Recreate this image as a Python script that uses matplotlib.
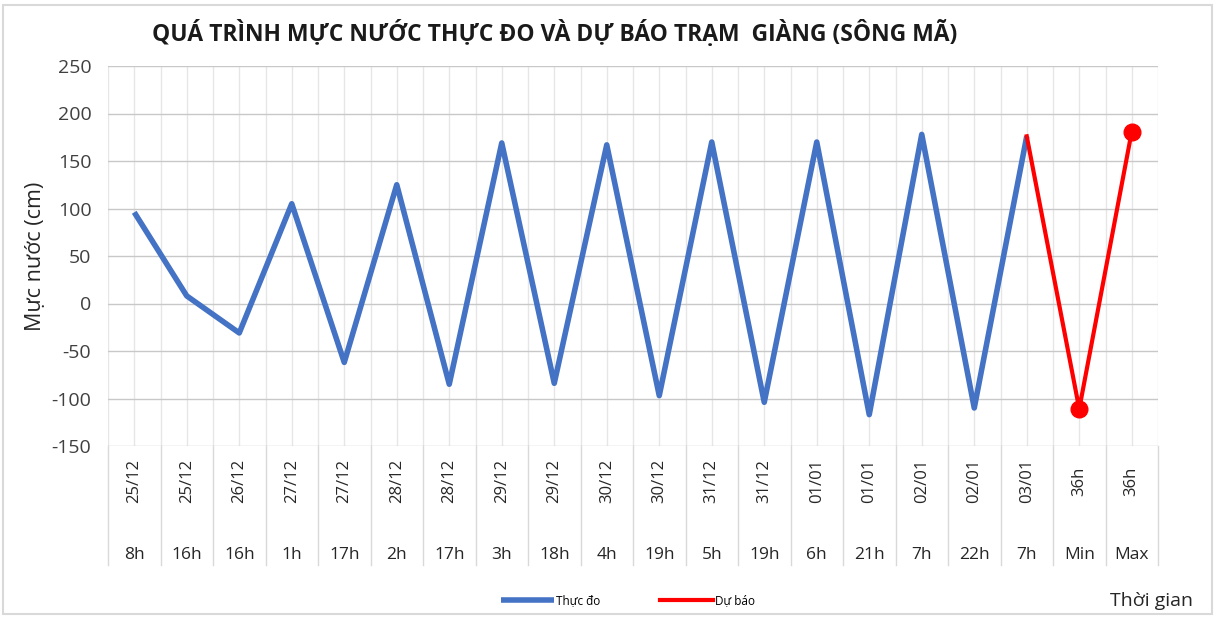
import matplotlib
matplotlib.use("Agg")
import matplotlib.pyplot as plt
import matplotlib.transforms as mtransforms
from matplotlib.patches import Rectangle
import numpy as np

dates = ["25/12", "25/12", "26/12", "27/12", "27/12", "28/12", "28/12", "29/12", "29/12", "30/12",
         "30/12", "31/12", "31/12", "01/01", "01/01", "02/01", "02/01", "03/01", "36h", "36h"]
hours = ["8h", "16h", "16h", "1h", "17h", "2h", "17h", "3h", "18h", "4h",
         "19h", "5h", "19h", "6h", "21h", "7h", "22h", "7h", "Min", "Max"]
observed = [96, 8, -31, 105, -62, 125, -85, 169, -84, 167,
            -97, 170, -104, 170, -117, 178, -110, 176, None, None]
forecast = [None] * 17 + [176, -111, 181]

title = "QUÁ TRÌNH MỰC NƯỚC THỰC ĐO VÀ DỰ BÁO TRẠM  GIÀNG (SÔNG MÃ)"
ylabel = "Mực nước (cm)"
xlabel = "Thời gian"

plt.rcParams['font.family'] = ['Open Sans', 'DejaVu Sans']
plt.rcParams['axes.unicode_minus'] = False

W, H = 1217, 618
fig = plt.figure(figsize=(W / 100, H / 100), dpi=100)
ax = fig.add_axes([108 / W, 1 - 446 / H, 1050 / W, 380 / H])

n = len(dates)
x = np.arange(n)
obs = np.array([np.nan if v is None else v for v in observed], dtype=float)
fc = np.array([np.nan if v is None else v for v in forecast], dtype=float)

ax.plot(x, obs, color="#4472C4", lw=4, solid_joinstyle="round", solid_capstyle="butt",
        zorder=3, label="Thực đo")
ax.plot(x, fc, color="#FF0000", lw=3, solid_joinstyle="round", zorder=4, label="Dự báo")
ax.plot(x[-2:], fc[-2:], 'o', color="#FF0000", ms=12, zorder=5)

ax.set_xlim(-0.5, n - 0.5)
ax.set_ylim(-150, 250)
ax.set_yticks(np.arange(-150, 251, 50))
ax.tick_params(axis='y', length=0, labelsize=14, pad=12, colors="#404040")
ax.tick_params(axis='x', length=0, labelbottom=False)
ax.set_xticks([])

# gridlines
for yv in np.arange(-150, 251, 50):
    ax.axhline(yv, color="#c8c8c8", lw=1, zorder=1)
for xv in np.arange(-0.5, n, 0.5):
    ax.axvline(xv, color="#e6e6e6", lw=1, zorder=0.5)
for s in ax.spines.values():
    s.set_visible(False)

# category labels and separators below axis
trans = mtransforms.blended_transform_factory(ax.transData, ax.transAxes)
ybot = -(565 - 446) / 380
for xv in np.arange(-0.5, n, 1.0):
    ax.plot([xv, xv], [0, ybot], transform=trans, color="#d9d9d9", lw=1, clip_on=False)
for i in range(n):
    ax.text(i, -(481 - 446) / 380, dates[i], transform=trans, rotation=90,
            ha='center', va='center', fontsize=12, color="#262626")
    ax.text(i, -(555 - 446) / 380, hours[i], transform=trans,
            ha='center', va='center', fontsize=12.5, color="#262626")

ax.set_ylabel(ylabel, fontsize=15.5, color="#262626", labelpad=4)

fig.text(555 / W, 1 - 33 / H, title, ha='center', va='center', fontsize=16.5,
         fontweight='bold', color="#1a1a1a")
fig.text(1193 / W, 1 - 601 / H, xlabel, ha='right', va='center', fontsize=14, color="#262626")

fig.legend(loc='center', bbox_to_anchor=(628 / W, 1 - 601 / H), ncol=2, frameon=False,
           fontsize=8.5, handlelength=4.5, columnspacing=5, handletextpad=0.2)

fig.patches.append(Rectangle((3 / W, 4 / H), 1 - 8 / W, 1 - 9 / H, transform=fig.transFigure,
                             fill=False, edgecolor="#d9d9d9", lw=1.5))

fig.savefig("out.png", dpi=100)
